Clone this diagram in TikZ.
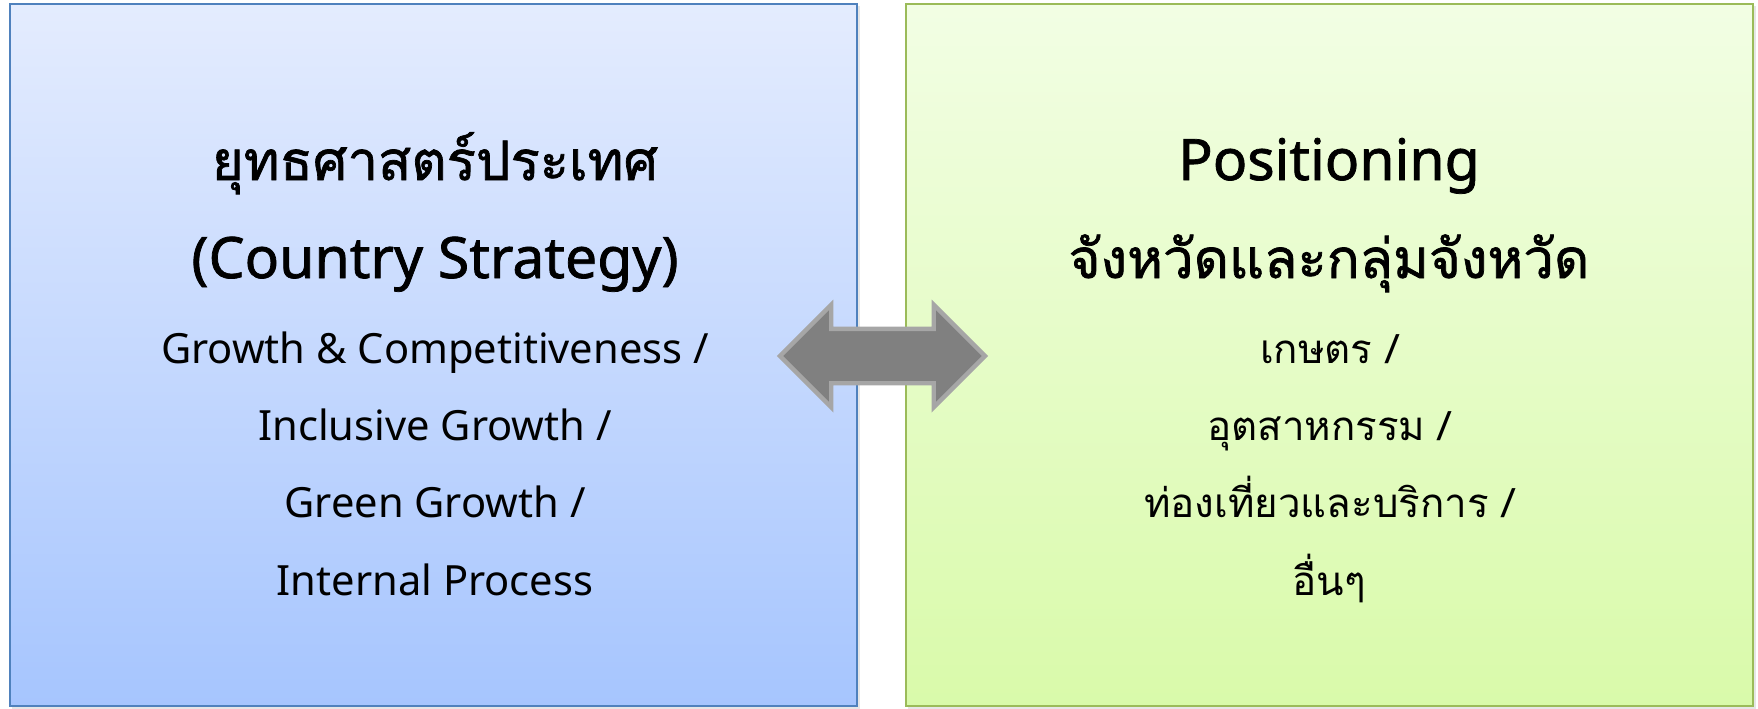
\documentclass[tikz,border=0pt]{standalone}
\usepackage{fontspec}
\setmainfont{Noto Sans}[AutoFakeBold=1.3]
\newfontfamily\thaifont[Script=Thai,AutoFakeBold=1.3]{Loma}
\usetikzlibrary{
    shapes.arrows,
    shadows,
    positioning
}
\definecolor{ctrytop}{RGB}{228, 236, 254}
\definecolor{ctrybot}{RGB}{166, 197, 254}
\definecolor{ctryline}{RGB}{79, 129, 189}
\definecolor{provtop}{RGB}{242, 254, 228}
\definecolor{provbot}{RGB}{217, 250, 170}
\definecolor{provline}{RGB}{155, 187, 89}
\definecolor{linkfill}{RGB}{128, 128, 128}
\definecolor{linkline}{RGB}{166, 166, 166}

\begin{document}
\begin{tikzpicture}[
        x=0.02cm, y=-0.02cm,
        panel/.style={rectangle, line width=1.2pt, minimum width=16.95cm, minimum height=14.06cm,
            drop shadow={opacity=0.2, shadow xshift=1.5pt, shadow yshift=-1.5pt}},
        head/.style={anchor=base, font=\bfseries\fontsize{32.5}{36}\selectfont},
        headth/.style={anchor=base, font=\thaifont\bfseries\fontsize{31}{36}\selectfont},
        item/.style={anchor=base, font=\fontsize{23.7}{28}\selectfont},
        itemth/.style={anchor=base, font=\thaifont\fontsize{22.9}{28}\selectfont},
        link/.style={double arrow, fill=linkfill, draw=linkline, line width=2.5pt,
            double arrow head extend=0.48cm, inner xsep=0pt, inner ysep=0.5cm,
            minimum height=4.1cm}
    ]
        \useasboundingbox (0,0) rectangle (1758,708);

        % Panels
        \node[panel, draw=ctryline, top color=ctrytop, bottom color=ctrybot] (ctry) at (433.5,355) {};
        \node[panel, draw=provline, top color=provtop, bottom color=provbot] (prov) at (1329.5,355) {};

        % Link between panels
        \node[link] (link) at (882.5,356) {};

        % Left: country strategy
        \node[headth] (ctryth) at (435,180) {ยุทธศาสตร์ประเทศ};
        \node[head] (ctryen) at (435,278) {(Country Strategy)};
        \node[item] (grow) at (435,363) {Growth \& Competitiveness /};
        \node[item] (incl) at (435,440) {Inclusive Growth /};
        \node[item] (green) at (435,517) {Green Growth /};
        \node[item] (intern) at (435,595) {Internal Process};

        % Right: provincial positioning
        \node[head] (posen) at (1329,180) {Positioning};
        \node[headth] (posth) at (1329,278) {จังหวัดและกลุ่มจังหวัด};
        \node[itemth] (agri) at (1329,363) {เกษตร /};
        \node[itemth] (indus) at (1329,440) {อุตสาหกรรม /};
        \node[itemth] (tour) at (1329,517) {ท่องเที่ยวและบริการ /};
        \node[itemth] (other) at (1329,595) {อื่นๆ};
    \end{tikzpicture}
\end{document}
